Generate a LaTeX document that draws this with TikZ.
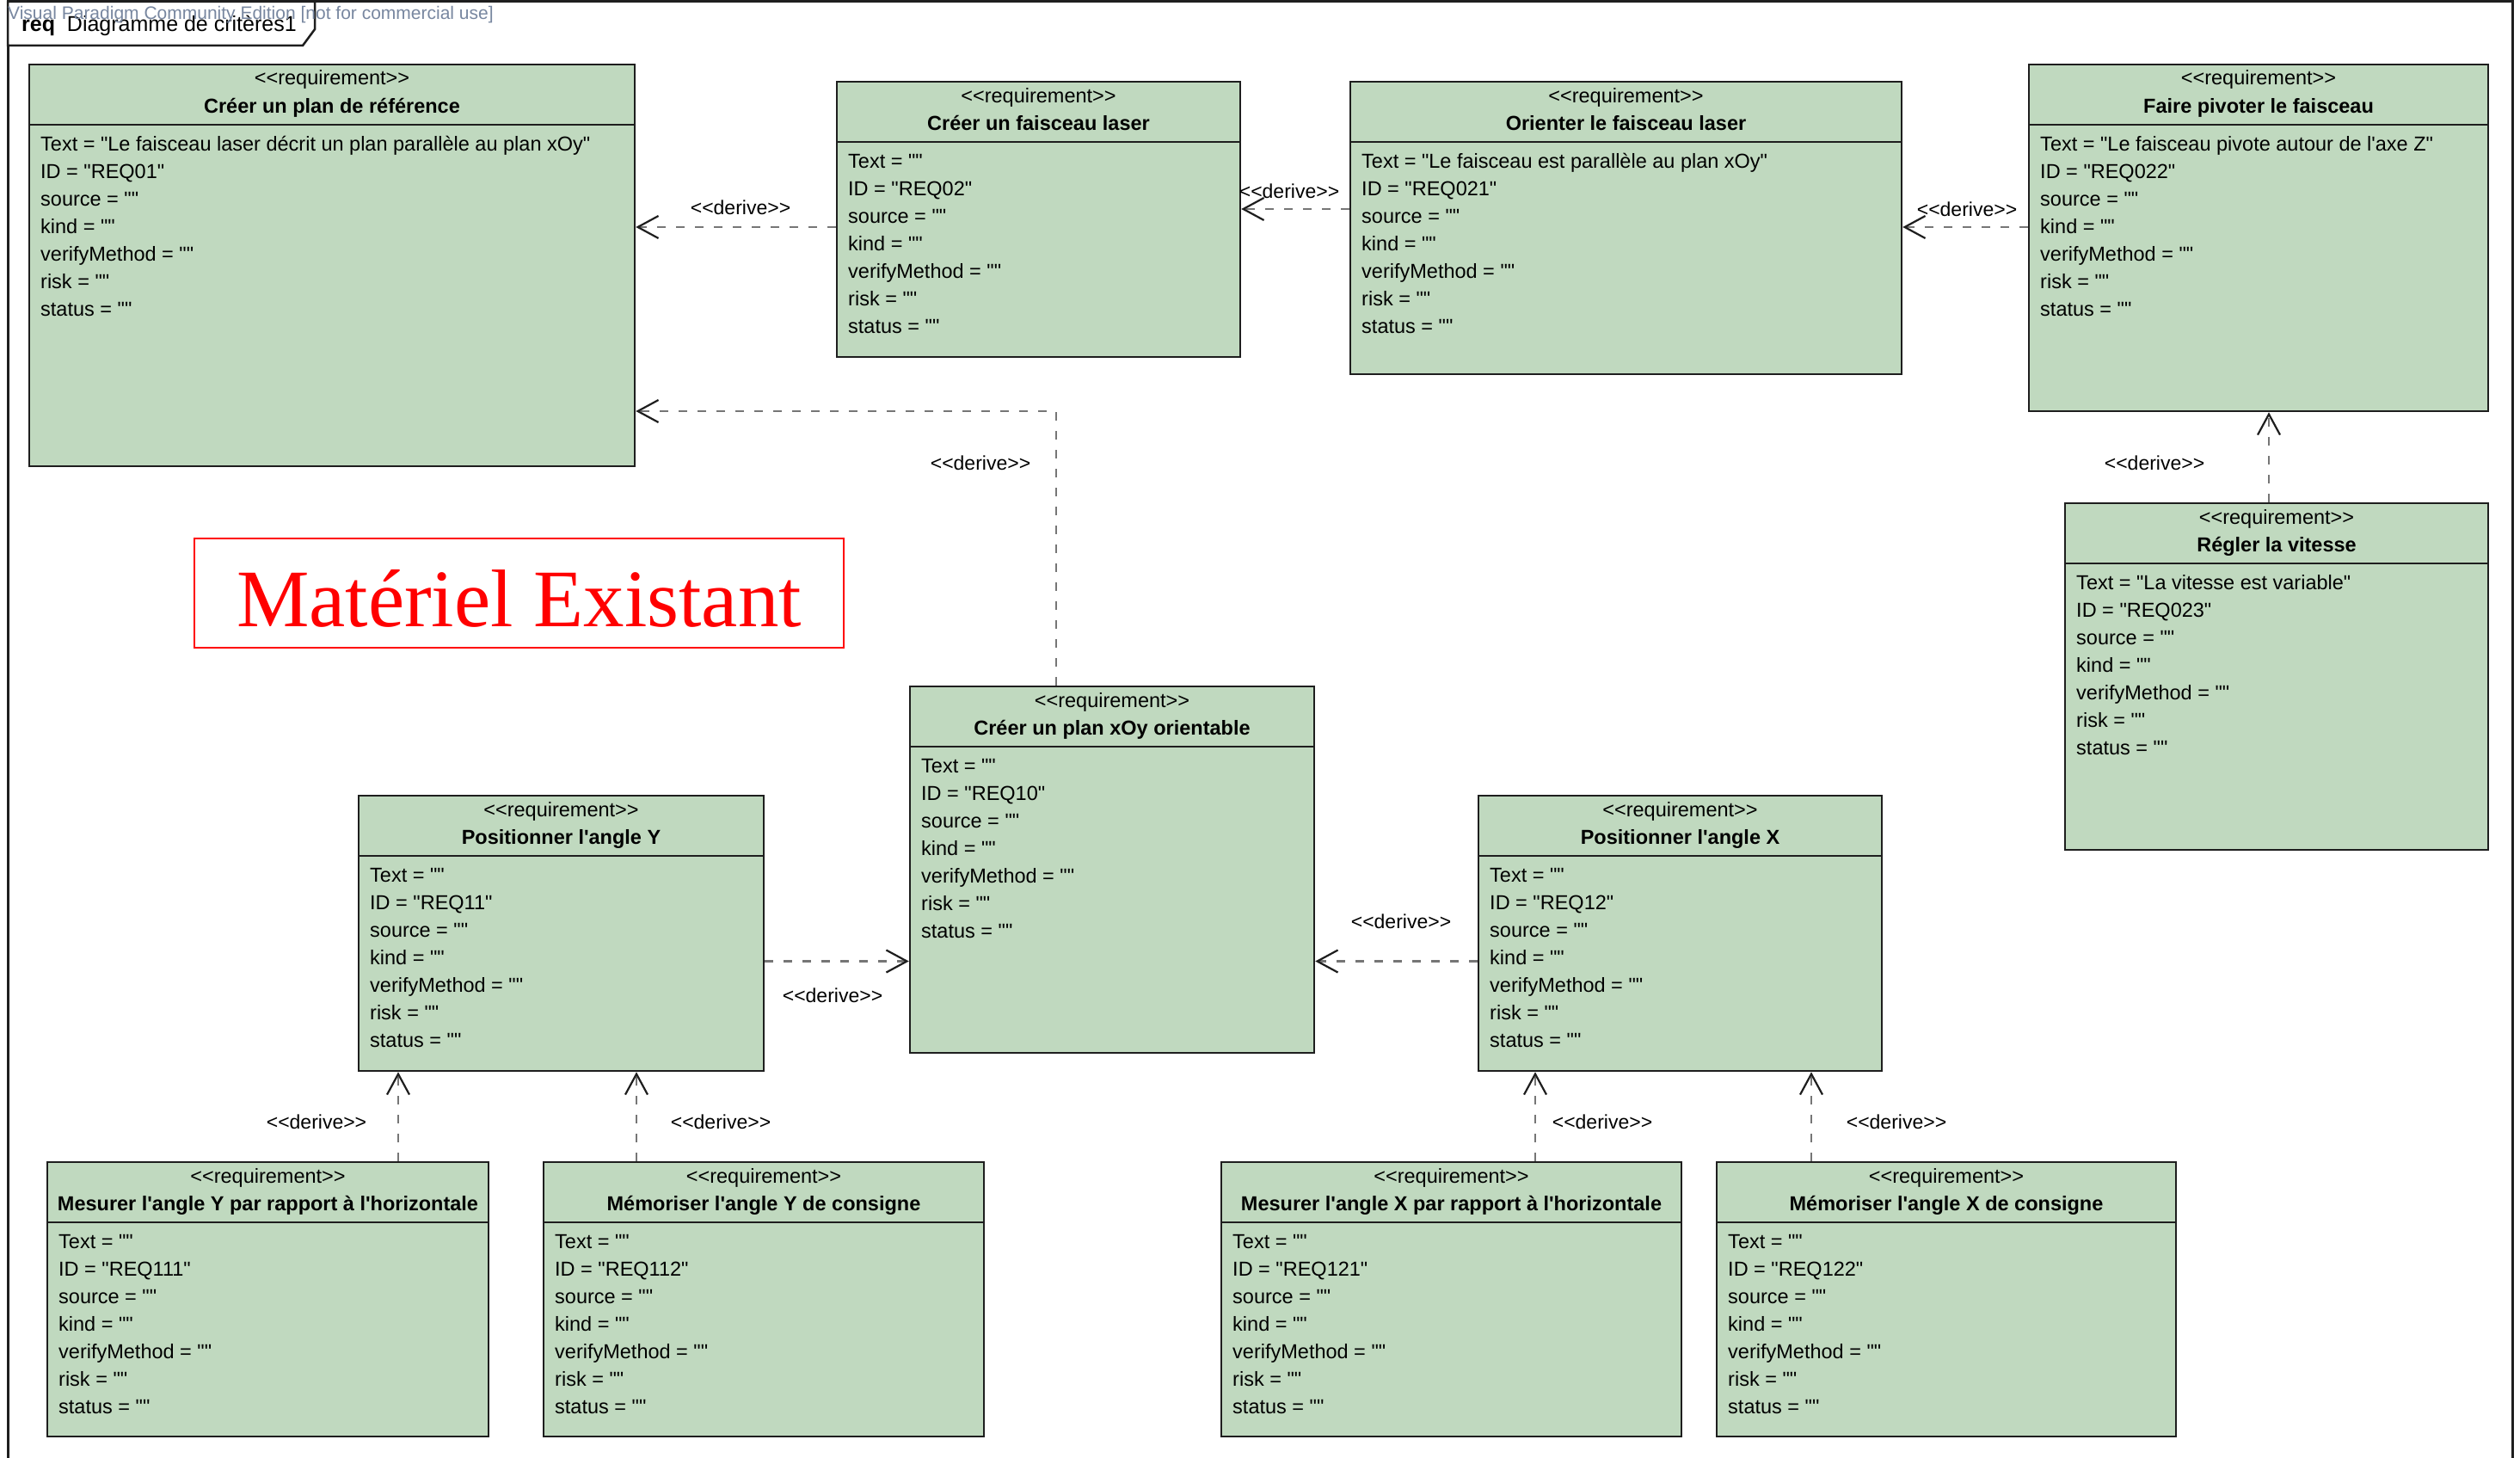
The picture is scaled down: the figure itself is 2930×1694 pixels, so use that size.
\documentclass[tikz,border=0pt]{standalone}
\usepackage{fontspec}
\newfontfamily\umlfont{Liberation Sans}
\newfontfamily\serfont{Liberation Serif}
\usetikzlibrary{arrows.meta}
\definecolor{reqfill}{RGB}{192,217,191}
\definecolor{wm}{RGB}{120,135,160}
\definecolor{dashc}{RGB}{118,118,118}
\definecolor{edge}{RGB}{30,30,30}
\newcommand\umlsize{\fontsize{23.5}{28}\selectfont}
\newcommand\reqbox[8]{%
  \node[reqbox, minimum width={(#4)-(#2)}, minimum height={(#5)-(#3)}] (#1) at ({((#2)+(#4))/2},{((#3)+(#5))/2}) {};
  \draw[reqedge] (#2,#3+70) -- (#4,#3+70);
  \node[stereo] (#1-st) at ({((#2)+(#4))/2},#3+24) {<<requirement>>};
  \node[stereo,font=\umlfont\bfseries\umlsize] (#1-ti) at ({((#2)+(#4))/2},#3+56) {#6};
  \node[attr] (#1-a1) at (#2+13,#3+100) {Text = "#7"};
  \node[attr] (#1-a2) at (#2+13,#3+132) {ID = "#8"};
  \node[attr] (#1-a3) at (#2+13,#3+164) {source = ""};
  \node[attr] (#1-a4) at (#2+13,#3+196) {kind = ""};
  \node[attr] (#1-a5) at (#2+13,#3+228) {verifyMethod = ""};
  \node[attr] (#1-a6) at (#2+13,#3+260) {risk = ""};
  \node[attr] (#1-a7) at (#2+13,#3+292) {status = ""};
}
\begin{document}
\begin{tikzpicture}[x=1pt,y=-1pt,
  reqbox/.style={draw=edge, line width=2.5pt, fill=reqfill, inner sep=0pt, rectangle},
  reqedge/.style={draw=edge, line width=2.5pt},
  stereo/.style={anchor=base, inner sep=0pt, font=\umlfont\umlsize},
  attr/.style={anchor=base west, inner sep=0pt, font=\umlfont\umlsize},
  dlabel/.style={inner sep=0pt, font=\umlfont\fontsize{23}{28}\selectfont},
  derive/.style={draw=dashc, line width=2.5pt, dash pattern=on 10pt off 12pt,
     -{Straight Barb[length=24pt,width=26pt,line width=2.2pt,color=edge]}}]
\useasboundingbox (0,0) rectangle (2930,1694);
\fill[white] (0,0) rectangle (2930,1694);
% frame
\draw[edge, line width=3pt] (9,1700) -- (9,2) -- (2921,2) -- (2921,1700);
\draw[edge, line width=2.5pt, fill=white] (9,2) -- (366,2) -- (366,34) -- (352,53) -- (9,53) -- cycle;
\node[anchor=base west, inner sep=0pt, font=\umlfont\fontsize{25}{30}\selectfont] (tab) at (25,37) {\bfseries req\mdseries\ \ Diagramme de critères1};
\node[anchor=base west, inner sep=0pt, text=wm, font=\umlfont\fontsize{21}{25}\selectfont] (wmark) at (9,23) {Visual Paradigm Community Edition [not for commercial use]};

% boxes
\reqbox{req01}{34}{75}{738}{542}{Créer un plan de référence}{Le faisceau laser décrit un plan parallèle au plan xOy}{REQ01}
\reqbox{req02}{973}{95}{1442}{415}{Créer un faisceau laser}{}{REQ02}
\reqbox{req021}{1570}{95}{2211}{435}{Orienter le faisceau laser}{Le faisceau est parallèle au plan xOy}{REQ021}
\reqbox{req022}{2359}{75}{2893}{478}{Faire pivoter le faisceau}{Le faisceau pivote autour de l'axe Z}{REQ022}
\reqbox{req023}{2401}{585}{2893}{988}{Régler la vitesse}{La vitesse est variable}{REQ023}
\reqbox{req10}{1058}{798}{1528}{1224}{Créer un plan xOy orientable}{}{REQ10}
\reqbox{req11}{417}{925}{888}{1245}{Positionner l'angle Y}{}{REQ11}
\reqbox{req12}{1719}{925}{2188}{1245}{Positionner l'angle X}{}{REQ12}
\reqbox{req111}{55}{1351}{568}{1670}{Mesurer l'angle Y par rapport à l'horizontale}{}{REQ111}
\reqbox{req112}{632}{1351}{1144}{1670}{Mémoriser l'angle Y de consigne}{}{REQ112}
\reqbox{req121}{1420}{1351}{1955}{1670}{Mesurer l'angle X par rapport à l'horizontale}{}{REQ121}
\reqbox{req122}{1996}{1351}{2530}{1670}{Mémoriser l'angle X de consigne}{}{REQ122}

% red label
\node[draw=red, line width=2pt, inner sep=0pt, minimum width=755, minimum height=127] (mat) at (603.5,689.5) {};
\node[anchor=base, inner sep=0pt, text=red, font=\serfont\fontsize{95}{100}\selectfont] (matt) at (603.5,728) {Matériel Existant};

% connectors
\path ([yshift=-9pt]req02.west) coordinate (c1);
\draw[derive] (c1) -- (c1 -| req01.east);
\path ([yshift=22pt]req021.west) coordinate (c2);
\draw[derive] (c2) -- (c2 -| req02.east);
\path ([yshift=12.5pt]req022.west) coordinate (c3);
\draw[derive] (c3) -- (c3 -| req021.east);
\path ([xshift=-9pt]req023.north) coordinate (c4);
\draw[derive] (c4) -- (c4 |- req022.south);
\path ([xshift=-65pt]req10.north) coordinate (c5);
\coordinate (k5) at (1228,478);
\draw[derive] (c5) -- (k5) -- (k5 -| req01.east);
\path ([yshift=-32.5pt]req11.east) coordinate (c6);
\draw[derive] (c6) -- (c6 -| req10.west);
\path ([yshift=-32.5pt]req12.west) coordinate (c7);
\draw[derive] (c7) -- (c7 -| req10.east);
\path ([xshift=151.5pt]req111.north) coordinate (c8);
\draw[derive] (c8) -- (c8 |- req11.south);
\path ([xshift=-148pt]req112.north) coordinate (c9);
\draw[derive] (c9) -- (c9 |- req11.south);
\path ([xshift=97.5pt]req121.north) coordinate (c10);
\draw[derive] (c10) -- (c10 |- req12.south);
\path ([xshift=-157pt]req122.north) coordinate (c11);
\draw[derive] (c11) -- (c11 |- req12.south);

% labels
\node[dlabel] (l1) at (861,241) {<<derive>>};
\node[dlabel] (l2) at (1499,222) {<<derive>>};
\node[dlabel] (l3) at (2287,243) {<<derive>>};
\node[dlabel] (l4) at (2505,538) {<<derive>>};
\node[dlabel] (l5) at (1140,538) {<<derive>>};
\node[dlabel] (l6) at (968,1157) {<<derive>>};
\node[dlabel] (l7) at (1629,1071) {<<derive>>};
\node[dlabel] (l8) at (368,1304) {<<derive>>};
\node[dlabel] (l9) at (838,1304) {<<derive>>};
\node[dlabel] (l10) at (1863,1304) {<<derive>>};
\node[dlabel] (l11) at (2205,1304) {<<derive>>};
\end{tikzpicture}
\end{document}
